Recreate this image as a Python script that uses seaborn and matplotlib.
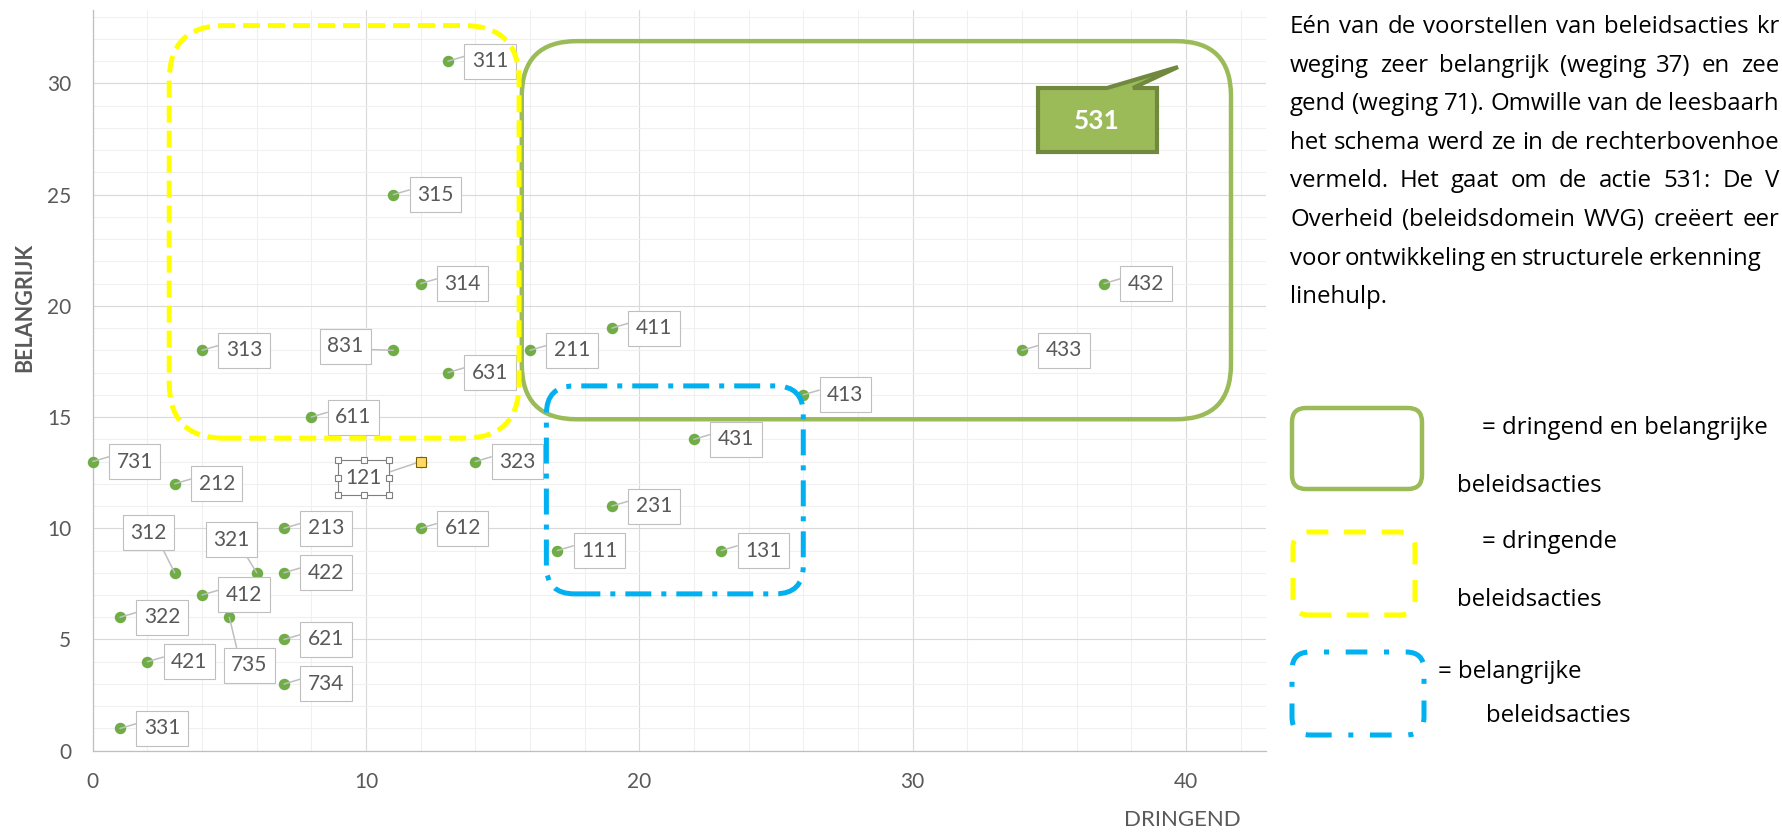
import numpy as np
import pandas as pd
import matplotlib
matplotlib.use("Agg")
import matplotlib.pyplot as plt
import seaborn as sns
from matplotlib.patches import FancyBboxPatch, Polygon
from matplotlib.lines import Line2D
from matplotlib.transforms import IdentityTransform

# beleidsacties: code, dringend (x), belangrijk (y)
acties = ["311", "315", "314", "313", "831", "631", "611", "731", "212", "121", "323",
          "213", "612", "312", "321", "422", "412", "322", "735", "621", "421", "734",
          "331", "211", "411", "432", "433", "413", "431", "231", "111", "131"]
dringend = [13, 11, 12, 4, 11, 13, 8, 0, 3, 12, 14,
            7, 12, 3, 6, 7, 4, 1, 5, 7, 2, 7,
            1, 16, 19, 37, 34, 26, 22, 19, 17, 23]
belangrijk = [31, 25, 21, 18, 18, 17, 15, 13, 12, 13, 13,
              10, 10, 8, 8, 8, 7, 6, 6, 5, 4, 3,
              1, 18, 19, 21, 18, 16, 14, 11, 9, 9]

# actie 531 (dringend 71, belangrijk 37) valt buiten het schema -> apart kader
actie_buiten = "531"

x_ticks = [0, 10, 20, 30, 40]
y_ticks = [0, 5, 10, 15, 20, 25, 30]

uitleg = [
    "Eén van de voorstellen van beleidsacties kr",
    "weging zeer belangrijk (weging 37) en zee",
    "gend (weging 71). Omwille van de leesbaarh",
    "het schema werd ze in de rechterbovenhoe",
    "vermeld. Het gaat om de actie 531: De V",
    "Overheid (beleidsdomein WVG) creëert eer",
    "voor ontwikkeling en structurele erkenning",
    "linehulp.",
]
legenda = ["= dringend en belangrijke", "beleidsacties",
           "= dringende", "beleidsacties",
           "= belangrijke", "beleidsacties"]

W, H = 1782, 832
GRIJS = "#595959"
GROEN = "#9BBB59"
GEEL = "#FFFF00"
BLAUW = "#00B0F0"

sns.set_style("white")
plt.rcParams["font.family"] = ["Lato", "DejaVu Sans"]
plt.rcParams["lines.scale_dashes"] = False
TEKSTFONT = ["Open Sans", "DejaVu Sans"]

df = pd.DataFrame({"actie": acties, "dringend": dringend, "belangrijk": belangrijk})

fig = plt.figure(figsize=(W / 100, H / 100), dpi=100)
ax_l, ax_b, ax_w, ax_h = 92.7, 750.7, 1173.0, 740.7  # px
ax = fig.add_axes([ax_l / W, (H - ax_b) / H, ax_w / W, ax_h / H])
xmax, ymax = 42.92, 33.3
ax.set_xlim(0, xmax)
ax.set_ylim(0, ymax)

ax.set_xticks(x_ticks)
ax.set_yticks(y_ticks)
ax.set_xticks(np.arange(0, 43, 2), minor=True)
ax.set_yticks(np.arange(0, 34, 1), minor=True)
ax.grid(which="minor", color="#F0F0F0", lw=0.8, zorder=0)
ax.grid(which="major", color="#D9D9D9", lw=0.8, zorder=0)
ax.set_axisbelow(True)
ax.tick_params(which="major", labelsize=15, labelcolor=GRIJS, color="#BFBFBF",
               length=6.5, width=0.8, pad=9, direction="out")
ax.tick_params(which="minor", length=0)
for s in ["top", "right"]:
    ax.spines[s].set_visible(False)
for s in ["left", "bottom"]:
    ax.spines[s].set_color("#BFBFBF")
    ax.spines[s].set_linewidth(0.9)

sns.scatterplot(data=df, x="dringend", y="belangrijk", ax=ax, color="#70AD47",
                s=68, linewidth=0, zorder=3, clip_on=False, legend=False)

ax.set_xlabel("DRINGEND", fontsize=16, color=GRIJS)
ax.xaxis.set_label_coords(0.929, -0.0936)
ax.xaxis.label.set_va("center")
ax.set_ylabel("BELANGRIJK", fontsize=15.5, fontweight="bold", color=GRIJS)
ax.yaxis.set_label_coords(-0.0577, 0.598)
ax.yaxis.label.set_va("center")

# label placement in pixels (dx, dy, attach point of leader on the box)
plaats = {
    "831": (-48, 4, (1, 0.35)),
    "312": (-26, 40, (0.8, 0)),
    "321": (-25, 33, (0.8, 0)),
    "735": (20, -48, (0.2, 1)),
    "121": (-57, -16, (1, 0.65)),
}
annots = {}
for lab, x, y in zip(acties, dringend, belangrijk):
    dx, dy, rp = plaats.get(lab, (42, 0, (0, 0.85)))
    ec = "#7F7F7F" if lab == "121" else "#BFBFBF"
    annots[lab] = ax.annotate(
        lab, xy=(x, y), xytext=(dx, dy), textcoords="offset pixels",
        ha="center", va="center", fontsize=15, color=GRIJS, zorder=4,
        annotation_clip=False,
        bbox=dict(boxstyle="square,pad=0.36", fc="white", ec=ec, lw=0.8),
        arrowprops=dict(arrowstyle="-", color="#BFBFBF", lw=1.1,
                        shrinkA=0, shrinkB=0, relpos=rp))

# geselecteerd punt 121
i = acties.index("121")
ax.plot(dringend[i], belangrijk[i], marker="s", ms=6.5, mfc="#FFD966",
        mec="#7F6000", mew=0.8, zorder=5, clip_on=False)

# afgeronde kaders in het schema
px_x = ax_w / xmax
px_y = ax_h / ymax
asp = px_x / px_y


def kader(x0, y0, x1, y1, r_px, kleur, lw, ls):
    p = FancyBboxPatch((x0, y0), x1 - x0, y1 - y0,
                       boxstyle=f"round,pad=0,rounding_size={r_px / px_x}",
                       mutation_aspect=asp, fill=False, ec=kleur, lw=lw, ls=ls,
                       clip_on=False, zorder=6)
    ax.add_patch(p)


kader(15.7, 14.9, 41.65, 31.9, 55, GROEN, 3.2, "-")
kader(2.8, 14.05, 15.6, 32.6, 55, GEEL, 3.6, (0, (12.2, 5.8)))
kader(16.6, 7.05, 26.0, 16.4, 28, BLAUW, 3.6, (0, (18.7, 7.2, 3.6, 7.2)))


def fx(x):
    return x / W


def fy(y):
    return 1 - y / H


# callout voor actie 531
pts = [(1038, 88), (1107, 88), (1178, 67), (1133, 88), (1157, 88), (1157, 152), (1038, 152)]
fig.add_artist(Polygon([(fx(a), fy(b)) for a, b in pts], closed=True, fc=GROEN,
                       ec="#71893F", lw=3, joinstyle="miter", zorder=7))
fig.text(fx(1097), fy(121), actie_buiten, color="white", fontsize=19,
         fontweight="bold", ha="center", va="center", zorder=8)

# legende-kaders
fasp = W / H


def fkader(x0, y0, x1, y1, r_px, kleur, lw, ls):
    p = FancyBboxPatch((fx(x0), fy(y1)), (x1 - x0) / W, (y1 - y0) / H,
                       boxstyle=f"round,pad=0,rounding_size={r_px / W}",
                       mutation_aspect=fasp, fill=False, ec=kleur, lw=lw, ls=ls,
                       transform=fig.transFigure, zorder=6)
    fig.add_artist(p)


fkader(1292, 408, 1422, 489, 14, GROEN, 3.2, "-")
fkader(1293, 532, 1415, 615, 16, GEEL, 3.6, (0, (15.8, 11.3)))
fkader(1292, 652, 1424, 735, 18, BLAUW, 3.6, (0, (15.6, 12, 3.6, 12)))

leg_x = [1482, 1457, 1482, 1457, 1438, 1486]
leg_y = [434, 492, 548, 606, 678, 722]
for t, x, y in zip(legenda, leg_x, leg_y):
    fig.text(fx(x), fy(y), t, fontsize=17.3, family=TEKSTFONT, color="black",
             ha="left", va="baseline")

# uitlegtekst, uitgevuld tot aan de rand (laatste regel links uitgelijnd)
renderer = fig.canvas.get_renderer()
links = 1290
rechts = [1779, 1779, 1779, 1779, 1779, 1779, 1760]
for k, regel in enumerate(uitleg):
    yy = fy(33 + k * 38.6)
    if k == len(uitleg) - 1:
        fig.text(fx(links), yy, regel, fontsize=17.3, family=TEKSTFONT,
                 color="black", ha="left", va="baseline")
        continue
    woorden = regel.split(" ")
    objs = [fig.text(0, yy, w_, fontsize=17.3, family=TEKSTFONT, color="black",
                     ha="left", va="baseline") for w_ in woorden]
    breedtes = [o.get_window_extent(renderer).width for o in objs]
    tussen = (rechts[k] - links - sum(breedtes)) / (len(woorden) - 1)
    tussen = max(tussen, 4.0)
    xpos = links
    for o, b in zip(objs, breedtes):
        o.set_x(fx(xpos))
        xpos += b + tussen

# selectiegrepen rond label 121
fig.canvas.draw()
bb = annots["121"].get_bbox_patch().get_window_extent(fig.canvas.get_renderer())
mx, my = (bb.x0 + bb.x1) / 2, (bb.y0 + bb.y1) / 2
hx = [bb.x0, mx, bb.x1, bb.x0, bb.x1, bb.x0, mx, bb.x1]
hy = [bb.y1, bb.y1, bb.y1, my, my, bb.y0, bb.y0, bb.y0]
fig.add_artist(Line2D(hx, hy, transform=IdentityTransform(), ls="none", marker="s",
                      ms=5, mfc="white", mec="#7F7F7F", mew=0.8, zorder=9))

fig.savefig("out.png", dpi=100)
